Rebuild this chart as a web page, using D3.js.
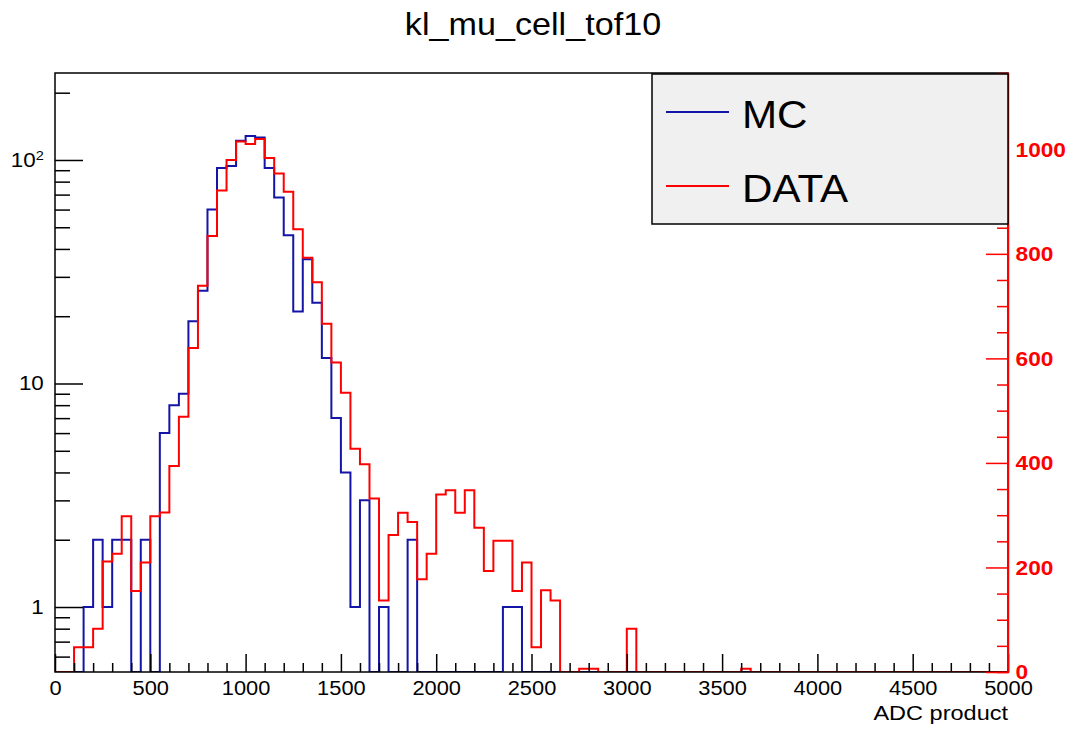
<!doctype html>
<html>
<head>
    <style>
        body { margin: 0; background: white; }
        svg { display: block; }
        text { font-family: "Liberation Sans", Arial, Helvetica, sans-serif; }
        .hist { fill: none; stroke-width: 2; stroke-linejoin: miter; }
        .axis path, .axis line { stroke: black; stroke-width: 1.5; }
        .raxis path, .raxis line { stroke: red; stroke-width: 1.5; }
    </style>
    <script src="https://d3js.org/d3.v7.min.js"></script>
</head>
<body>
<script>
    // 100 bins of width 50 between 0 and 5000
    const binEdges = d3.range(0, 5001, 50);

    const mcCounts = [
        0, 0, 0, 1, 2, 1, 2, 2, 0, 2,
        0, 6, 8, 9, 19, 26, 60, 92, 94, 122,
        128, 126, 92, 68, 46, 21, 36, 23, 13, 7,
        4, 1, 3, 0, 1, 0, 0, 2, 0, 0,
        0, 0, 0, 0, 0, 0, 0, 1, 1, 0,
        0, 0, 0, 0, 0, 0, 0, 0, 0, 0,
        0, 0, 0, 0, 0, 0, 0, 0, 0, 0,
        0, 0, 0, 0, 0, 0, 0, 0, 0, 0,
        0, 0, 0, 0, 0, 0, 0, 0, 0, 0,
        0, 0, 0, 0, 0, 0, 0, 0, 0, 0
    ];

    const dataCounts = [
        0, 0, 0.66, 0.66, 0.80, 1.6, 1.73, 2.55, 1.18, 1.58,
        2.55, 2.65, 4.27, 7.1, 14.4, 27.4, 45.7, 73, 100, 121,
        118, 124, 102, 87, 72, 49, 36.5, 28.4, 18.5, 12.4,
        9.1, 5.1, 4.35, 3.06, 1.07, 2.1, 2.64, 2.4, 1.33, 1.73,
        3.19, 3.33, 2.64, 3.33, 2.26, 1.45, 1.98, 1.98, 1.18, 1.58,
        0.66, 1.19, 1.07, 0, 0, 0.53, 0.53, 0, 0, 0,
        0.8, 0, 0, 0, 0, 0, 0, 0, 0, 0,
        0, 0, 0.53, 0, 0, 0, 0, 0, 0, 0,
        0, 0, 0, 0, 0, 0, 0, 0, 0, 0,
        0, 0, 0, 0, 0, 0, 0, 0, 0, 0
    ];

    const xMajorTicks = d3.range(0, 5001, 500);
    const xMinorTicks = d3.range(0, 5001, 100).filter(v => v % 500 !== 0);
    const yMajorTicks = [1, 10, 100];
    const yMinorTicks = [0.6, 0.7, 0.8, 0.9, 2, 3, 4, 5, 6, 7, 8, 9, 20, 30, 40, 50, 60, 70, 80, 90, 200];
    const rMajorTicks = [0, 200, 400, 600, 800, 1000];
    const rMinorTicks = d3.range(0, 1101, 50).filter(v => v % 200 !== 0);

    const W = 1078, H = 729;
    const frame = {left: 55, right: 1008, top: 73, bottom: 672};
    const SX = 1.12; // the picture is stretched horizontally

    const svg = d3.select('body').append('svg')
        .attr('width', W).attr('height', H);
    svg.append('rect').attr('width', W).attr('height', H).attr('fill', 'white');

    const x = d3.scaleLinear().domain([0, 5000]).range([frame.left, frame.right]);
    const y = d3.scaleLog().domain([0.512, 245]).range([frame.bottom, frame.top]);
    const yR = d3.scaleLinear().domain([0, 1146]).range([frame.bottom, frame.top]);

    svg.append('clipPath').attr('id', 'plotclip')
        .append('rect')
        .attr('x', frame.left).attr('y', frame.top)
        .attr('width', frame.right - frame.left).attr('height', frame.bottom - frame.top);

    function stepPoints(counts) {
        const ymin = y.domain()[0];
        const pts = [[binEdges[0], ymin]];
        counts.forEach((c, i) => {
            const v = c > ymin ? c : ymin;
            pts.push([binEdges[i], v]);
            pts.push([binEdges[i + 1], v]);
        });
        pts.push([binEdges[binEdges.length - 1], ymin]);
        return pts;
    }

    const line = d3.line().x(d => x(d[0])).y(d => y(d[1]));

    const plot = svg.append('g').attr('clip-path', 'url(#plotclip)');
    plot.append('path').attr('class', 'hist')
        .attr('stroke', '#1414a6')
        .attr('d', line(stepPoints(mcCounts)));
    plot.append('path').attr('class', 'hist')
        .attr('stroke', '#ff0000')
        .attr('d', line(stepPoints(dataCounts)));

    // frame
    svg.append('rect')
        .attr('x', frame.left).attr('y', frame.top)
        .attr('width', frame.right - frame.left).attr('height', frame.bottom - frame.top)
        .attr('fill', 'none').attr('stroke', 'black').attr('stroke-width', 1.5);

    // x axis
    const gx = svg.append('g').attr('class', 'axis')
        .attr('transform', `translate(0,${frame.bottom})`);
    gx.call(d3.axisBottom(x).tickValues(xMajorTicks).tickSize(-18).tickPadding(9).tickFormat(d3.format('d')));
    gx.append('g').call(d3.axisBottom(x).tickValues(xMinorTicks).tickSize(-9).tickFormat(''));
    gx.selectAll('.domain').remove();
    gx.selectAll('text')
        .attr('fill', 'black').attr('font-size', 19.5)
        .attr('font-family', '"Liberation Sans", Arial, sans-serif')
        .attr('transform', `scale(${SX},1)`);

    // left log axis
    const gy = svg.append('g').attr('class', 'axis')
        .attr('transform', `translate(${frame.left},0)`);
    gy.call(d3.axisLeft(y).tickValues(yMajorTicks).tickSize(-28).tickPadding(10).tickFormat(d => d === 100 ? '10' : String(d)));
    gy.append('g').call(d3.axisLeft(y).tickValues(yMinorTicks).tickSize(-15).tickFormat(''));
    gy.selectAll('.domain').remove();
    gy.selectAll('text')
        .attr('fill', 'black').attr('font-size', 20)
        .attr('font-family', '"Liberation Sans", Arial, sans-serif')
        .attr('transform', `scale(${SX},1)`);
    gy.selectAll('.tick text').filter(d => d === 100)
        .append('tspan').attr('dy', '-0.55em').attr('font-size', 13).text('2');

    // right linear axis (red)
    const gr = svg.append('g').attr('class', 'raxis')
        .attr('transform', `translate(${frame.right},0)`);
    gr.call(d3.axisRight(yR).tickValues(rMajorTicks).tickSize(-22).tickPadding(7).tickFormat(d3.format('d')));
    gr.append('g').call(d3.axisRight(yR).tickValues(rMinorTicks).tickSize(-11).tickFormat(''));
    gr.select('.domain').attr('d', `M0,${frame.bottom}V${frame.top}`);
    gr.selectAll('text')
        .attr('fill', 'red').attr('font-size', 21).attr('font-weight', 'bold')
        .attr('font-family', '"Liberation Sans", Arial, sans-serif')
        .attr('transform', `scale(1.08,1)`);

    function label(txt, px, py, size, anchor, sx) {
        return svg.append('text')
            .attr('transform', `translate(${px},${py}) scale(${sx},1)`)
            .attr('text-anchor', anchor)
            .attr('font-size', size)
            .attr('fill', 'black')
            .text(txt);
    }

    // titles
    label('kl_mu_cell_tof10', 533, 35, 30.5, 'middle', SX);
    label('ADC product', frame.right, 720, 21, 'end', SX);

    // legend
    const legendItems = ['MC', 'DATA'];
    const legendColors = ['#1414a6', '#ff0000'];
    const leg = {x: 652, y: 74, w: 356, h: 150};
    svg.append('rect')
        .attr('x', leg.x).attr('y', leg.y).attr('width', leg.w).attr('height', leg.h)
        .attr('fill', '#f0f0f0').attr('stroke', 'black').attr('stroke-width', 1.5);
    legendItems.forEach((name, i) => {
        const ly = 112 + i * 74;
        svg.append('line')
            .attr('x1', 666).attr('x2', 729).attr('y1', ly).attr('y2', ly)
            .attr('stroke', legendColors[i]).attr('stroke-width', 2);
        label(name, 742, ly + 16, 38, 'start', 1.11);
    });
</script>
</body>
</html>
